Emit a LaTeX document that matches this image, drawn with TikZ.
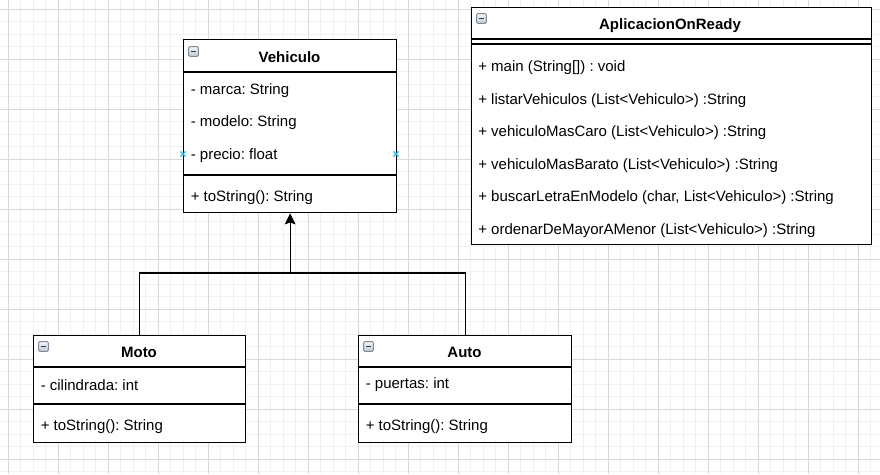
\documentclass[tikz,border=0pt]{standalone}
\usepackage{fontspec}
\setmainfont{Liberation Sans}
\frenchspacing
\usetikzlibrary{arrows.meta}
\definecolor{gridminor}{HTML}{F1F1F1}
\definecolor{gridmajor}{HTML}{D9D9D9}
\definecolor{hoverblue}{HTML}{29B6F2}
\definecolor{iconborder}{HTML}{7F8A97}
\definecolor{icontop}{HTML}{F2F5F8}
\definecolor{iconbottom}{HTML}{BFC9D4}
\definecolor{icondash}{HTML}{3A3A3A}
\tikzset{
  classbox/.style={draw=black, line width=0.95pt, fill=white, rectangle, inner sep=0pt, anchor=north west},
  divider/.style={draw=black, line width=0.95pt},
  titletext/.style={font=\fontsize{11.25}{13.5}\selectfont\bfseries, inner sep=0pt},
  rowtext/.style={font=\fontsize{11.25}{13.5}\selectfont, inner sep=0pt, anchor=west},
  minicon/.style={draw=iconborder, line width=0.7pt, top color=icontop, bottom color=iconbottom, rounded corners=0.8pt, minimum size=7.2pt, inner sep=0pt},
  connector/.style={draw=black, line width=0.95pt},
  hoverx/.style={draw=hoverblue, line width=1pt}
}
\begin{document}
\begin{tikzpicture}[x=0.75pt, y=-0.75pt]
\useasboundingbox (0,0) rectangle (880,474);
\fill[white] (0,0) rectangle (880,474);
% grid
\foreach \k in {0,...,71} { \draw[gridminor, line width=0.75pt] ({-4.2+12.5*\k},0) -- ({-4.2+12.5*\k},474); }
\foreach \k in {0,...,38} { \draw[gridminor, line width=0.75pt] (0,{-3.2+12.5*\k}) -- (880,{-3.2+12.5*\k}); }
\foreach \k in {0,...,17} { \draw[gridmajor, line width=0.75pt] ({8.3+50*\k},0) -- ({8.3+50*\k},474); }
\foreach \k in {0,...,9} { \draw[gridmajor, line width=0.75pt] (0,{9.3+50*\k}) -- (880,{9.3+50*\k}); }

% Vehiculo
\node[classbox, minimum width={213*0.75pt}, minimum height={173*0.75pt}] (veh) at (183,39) {};
\draw[divider] (veh.west |- 0,72) -- (veh.east |- 0,72);
\draw[divider] (veh.west |- 0,175) -- (veh.east |- 0,175);
\node[minicon] (vehicon) at (193.5,51.5) {};
\draw[icondash, line width=1.3pt] (vehicon.center) ++(-2.6,0) -- ++(5.2,0);
\node[titletext] (vehtitle) at (289.5,57) {Vehiculo};
\node[rowtext] (vehr1) at (190.5,90.5) {- marca: String};
\node[rowtext] (vehr2) at (190.5,122.5) {- modelo: String};
\node[rowtext] (vehr3) at (190.5,155.5) {- precio: float};
\node[rowtext] (vehr4) at (190.5,197.5) {+ toString(): String};
\coordinate (hl) at (183,154);
\coordinate (hr) at (396,154);
\draw[hoverx] (hl) ++(-2.6,-2.6) -- ++(5.2,5.2) (hl) ++(-2.6,2.6) -- ++(5.2,-5.2);
\draw[hoverx] (hr) ++(-2.6,-2.6) -- ++(5.2,5.2) (hr) ++(-2.6,2.6) -- ++(5.2,-5.2);

% AplicacionOnReady
\node[classbox, minimum width={400*0.75pt}, minimum height={237*0.75pt}] (app) at (471,7) {};
\draw[divider] (app.west |- 0,39) -- (app.east |- 0,39);
\draw[divider] (app.west |- 0,44) -- (app.east |- 0,44);
\node[minicon] (appicon) at (481.5,18.5) {};
\draw[icondash, line width=1.3pt] (appicon.center) ++(-2.6,0) -- ++(5.2,0);
\node[titletext] (apptitle) at (670,25.5) {AplicacionOnReady};
\node[rowtext] (appr1) at (478,67.5) {+ main (String[]) : void};
\node[rowtext] (appr2) at (478,100.5) {+ listarVehiculos (List<Vehiculo>) :String};
\node[rowtext] (appr3) at (478,132.5) {+ vehiculoMasCaro (List<Vehiculo>) :String};
\node[rowtext] (appr4) at (478,165.5) {+ vehiculoMasBarato (List<Vehiculo>) :String};
\node[rowtext] (appr5) at (478,197.5) {+ buscarLetraEnModelo (char, List<Vehiculo>) :String};
\node[rowtext] (appr6) at (478,230.5) {+ ordenarDeMayorAMenor (List<Vehiculo>) :String};

% Moto
\node[classbox, minimum width={212*0.75pt}, minimum height={107*0.75pt}] (moto) at (33,335) {};
\draw[divider] (moto.west |- 0,367) -- (moto.east |- 0,367);
\draw[divider] (moto.west |- 0,404) -- (moto.east |- 0,404);
\node[minicon] (motoicon) at (43.5,346.5) {};
\draw[icondash, line width=1.3pt] (motoicon.center) ++(-2.6,0) -- ++(5.2,0);
\node[titletext] (mototitle) at (139,352) {Moto};
\node[rowtext] (motor1) at (40.5,385) {- cilindrada: int};
\node[rowtext] (motor2) at (40.5,427) {+ toString(): String};

% Auto
\node[classbox, minimum width={213*0.75pt}, minimum height={107*0.75pt}] (auto) at (358,335) {};
\draw[divider] (auto.west |- 0,367) -- (auto.east |- 0,367);
\draw[divider] (auto.west |- 0,404) -- (auto.east |- 0,404);
\node[minicon] (autoicon) at (368.5,346.5) {};
\draw[icondash, line width=1.3pt] (autoicon.center) ++(-2.6,0) -- ++(5.2,0);
\node[titletext] (autotitle) at (464.5,352) {Auto};
\node[rowtext] (autor1) at (365.5,385) {- puertas: int};
\node[rowtext] (autor2) at (365.5,427) {+ toString(): String};

% inheritance
\coordinate (join) at (veh.south |- 0,273);
\draw[connector] (moto.north) |- (join);
\draw[connector] (auto.north) |- (join);
\draw[connector, -{Stealth[length=8.3pt, width=8pt, inset=1.4pt]}] (join) -- (veh.south);
\end{tikzpicture}
\end{document}
